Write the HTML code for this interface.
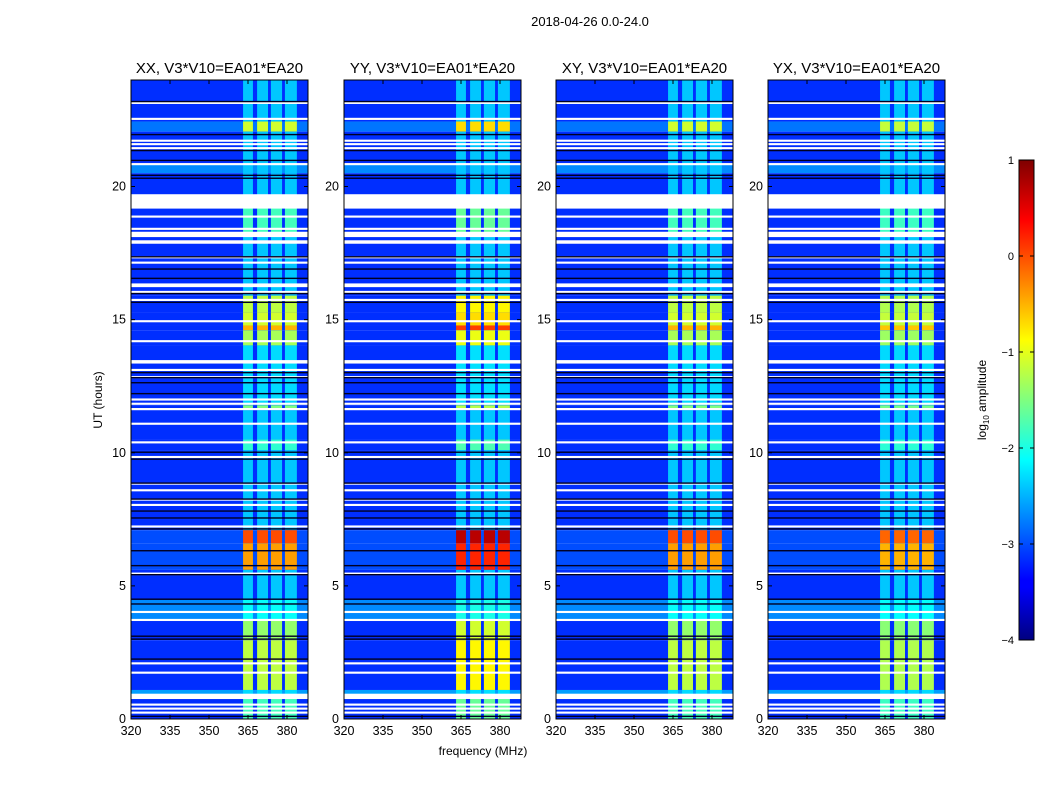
<!DOCTYPE html>
<html><head><meta charset="utf-8">
<style>
body{margin:0;background:#fff;}
svg text{font-family:"Liberation Sans",sans-serif;}
</style></head>
<body>
<svg id="fig" width="1050" height="800" xmlns="http://www.w3.org/2000/svg">
<defs>
<linearGradient id="jet" x1="0" y1="1" x2="0" y2="0">
<stop offset="0" stop-color="#00007f"/><stop offset="0.11" stop-color="#0000ff"/>
<stop offset="0.125" stop-color="#0000ff"/><stop offset="0.375" stop-color="#00ffff"/>
<stop offset="0.625" stop-color="#ffff00"/><stop offset="0.875" stop-color="#ff0000"/>
<stop offset="1" stop-color="#7f0000"/>
</linearGradient>
</defs>
<text x="590" y="26" font-size="13" text-anchor="middle">2018-04-26 0.0-24.0</text>
<text x="483" y="755" font-size="12" text-anchor="middle">frequency (MHz)</text>
<text transform="translate(102,400) rotate(-90)" font-size="12" text-anchor="middle">UT (hours)</text>
<g id="panels"></g>
<g>
<rect x="1019" y="160" width="15" height="480" fill="url(#jet)" stroke="#000" stroke-width="1"/>
<g id="cbticks"></g>
<text transform="translate(986,400) rotate(-90)" font-size="12" text-anchor="middle">log<tspan font-size="8" dy="3">10</tspan><tspan dy="-3"> amplitude</tspan></text>
</g>
</svg>
<script>
// ---- data ----
const panelTitles = ["XX, V3*V10=EA01*EA20","YY, V3*V10=EA01*EA20","XY, V3*V10=EA01*EA20","YX, V3*V10=EA01*EA20"];
const panelBoost = [0, 0.3, 0.0, -0.05];
const xTicks = [320,335,350,365,380];
const yTicks = [0,5,10,15,20];
const cbTicks = [1,0,-1,-2,-3,-4];
const cbTickLabels = ["1","0","\u22121","\u22122","\u22123","\u22124"];
// time segments (hours): start, end, background log amp, band log amp
const segStart = [22.44,22.06,20.86,20.50,19.20,18.27,15.90,15.27,14.78,14.60,14.03,11.78,11.60,10.50,10.10,7.09,6.60,5.60,4.47,3.71,2.96,1.09,0.90,0.00];
const segEnd   = [24.00,22.44,22.06,20.86,20.50,19.20,18.27,15.90,15.27,14.78,14.60,14.03,11.78,11.60,10.50,10.10,7.09,6.60,5.60,4.47,3.71,2.96,1.09,0.90];
const segBg    = [-3.15,-2.8,-3.15,-2.7,-3.15,-3.15,-3.15,-3.15,-3.15,-3.15,-3.15,-3.15,-3.15,-3.15,-3.15,-3.15,-3.0,-3.0,-3.15,-2.7,-3.15,-3.15,-2.6,-3.15];
const segBand  = [-2.4,-1.1,-2.4,-2.4,-2.4,-1.8,-2.4,-1.2,-1.1,-0.5,-1.3,-2.3,-1.5,-2.4,-1.9,-2.4,0.0,-0.4,-2.4,-2.1,-1.4,-1.2,-2.3,-1.8];
// sub-band channel ranges (MHz)
const bandLo = [363.1,368.5,373.8,379.2];
const bandHi = [366.9,372.7,378.1,383.8];
// flagged (white) intervals in hours
const flagStart = [23.1,22.5,21.68,21.55,21.4,20.8,19.17,18.83,18.1,18.37,17.9,17.85,17.3,17.1,16.22,16.0,15.7,14.9,14.15,13.35,13.07,12.8,11.96,11.8,11.6,11.05,10.35,9.8,8.8,8.55,8.2,8.0,7.19,5.4,3.98,3.68,2.05,1.7,0.75,0.5,0.35,0.2];
const flagEnd   = [23.18,22.58,21.76,21.63,21.48,20.88,19.71,18.91,18.3,18.45,17.98,17.93,17.38,17.18,16.36,16.08,15.78,14.98,14.23,13.48,13.15,12.88,12.04,11.88,11.68,11.13,10.43,9.88,8.88,8.63,8.28,8.08,7.27,5.5,4.06,3.76,2.13,1.78,0.95,0.58,0.43,0.28];
// dropout (black) lines in hours
const darkAt = [23.19,21.95,21.35,20.98,20.42,20.31,17.36,16.9,16.55,15.98,15.65,13.01,12.82,12.63,12.22,10.02,9.76,8.86,8.26,7.81,7.55,7.14,6.32,5.76,5.42,4.5,4.32,3.11,3.0,2.25,0.1];

// ---- layout ----
const NS="http://www.w3.org/2000/svg";
const panelX=[131,344,556,768], PW=177, PT=80, PB=719;
const fMin=320, fPx=2.6, hMax=24;
function yH(h){return PB-(h/hMax)*(PB-PT);}
function xF(px,f){return px+(f-fMin)*fPx;}
function jet(v){let t=Math.max(0,Math.min(1,(v+4)/5));
 const c=a=>Math.round(255*Math.max(0,Math.min(1,1.5-Math.abs(4*t-a))));
 return `rgb(${c(3)},${c(2)},${c(1)})`;}
function mk(tag,attrs,parent){const e=document.createElementNS(NS,tag);for(const k in attrs)e.setAttribute(k,attrs[k]);parent.appendChild(e);return e;}
const root=document.getElementById('panels');
panelX.forEach((px,p)=>{
 const g=mk('g',{},root);
 
 
 const hm=mk('g',{},g);
 
 
 for(let i=0;i<segStart.length;i++){
  const y1=yH(segEnd[i]),y2=yH(segStart[i]);
  const r=mk('rect',{x:px,y:y1,width:PW,height:y2-y1,fill:jet(segBg[i])},hm);
  
  
  const lvl=segBand[i]+panelBoost[p]*(segBand[i]+2.4);
  for(let b=0;b<bandLo.length;b++){
   const x1=xF(px,bandLo[b]),x2=Math.min(px+PW,xF(px,bandHi[b]));
   const c=mk('rect',{x:x1,y:y1,width:x2-x1,height:y2-y1,fill:jet(lvl)},hm);
   
   
  }
 }
 for(let i=0;i<flagStart.length;i++){
  const y1=yH(flagEnd[i]),y2=yH(flagStart[i]);
  const r=mk('rect',{x:px,y:y1,width:PW,height:Math.max(1.5,y2-y1),fill:'#fff'},hm);
  
  
 }
 for(let i=0;i<darkAt.length;i++){
  const r=mk('rect',{x:px,y:yH(darkAt[i])-0.7,width:PW,height:1.4,fill:'#000022'},hm);
  
  
 }
 const fr=mk('rect',{x:px,y:PT,width:PW,height:PB-PT,fill:'none',stroke:'#000','stroke-width':1},g);
 
 
 const t=mk('text',{x:px+PW/2,y:73,'font-size':15,'text-anchor':'middle'},g);
 t.textContent=panelTitles[p];
 
 
 xTicks.forEach(f=>{const x=xF(px,f);
  mk('line',{x1:x,x2:x,y1:PB,y2:PB-4,stroke:'#000'},g);
  mk('line',{x1:x,x2:x,y1:PT,y2:PT+4,stroke:'#000'},g);
  const l=mk('text',{x:x,y:PB+16,'font-size':12.5,'text-anchor':'middle'},g);l.textContent=f;
  
  });
 yTicks.forEach(h=>{const y=yH(h);
  mk('line',{x1:px,x2:px+4,y1:y,y2:y,stroke:'#000'},g);
  mk('line',{x1:px+PW,x2:px+PW-4,y1:y,y2:y,stroke:'#000'},g);
  const l=mk('text',{x:px-5,y:y+4,'font-size':12.5,'text-anchor':'end'},g);l.textContent=h;
  
  });
});
const cb=document.getElementById('cbticks');
cbTicks.forEach((v,i)=>{const y=160+(1-v)/5*480;
 mk('line',{x1:1019,x2:1023,y1:y,y2:y,stroke:'#000'},cb);
 mk('line',{x1:1034,x2:1030,y1:y,y2:y,stroke:'#000'},cb);
 const l=mk('text',{x:1014,y:y+4,'font-size':11,'text-anchor':'end'},cb);l.textContent=cbTickLabels[i];
 
 });
</script>
</body></html>
